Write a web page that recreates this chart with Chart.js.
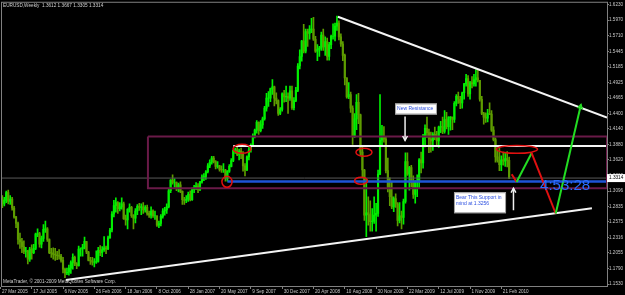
<!DOCTYPE html>
<html>
<head>
<meta charset="utf-8">
<script src="https://cdn.jsdelivr.net/npm/chart.js@4.4.1/dist/chart.umd.min.js"></script>
<style>
  html, body { margin: 0; padding: 0; background: #000; }
</style>
</head>
<body>
<canvas id="chart" width="625" height="295"></canvas>
<script>
// EURUSD weekly bars, first bar = week of 27 Mar 2005, last = week of 21 Mar 2010
const firstOpen = 1.2950;
const weekHigh = [
  // 2005
  1.3005,1.3020,1.2990,1.3095,1.3110,1.3020,1.2990,1.2840,1.2670,1.2575,
  1.2390,1.2300,1.2260,1.2150,1.2100,1.2150,1.2190,1.2200,1.2390,1.2460,
  1.2400,1.2340,1.2530,1.2590,1.2480,1.2290,1.2130,1.2140,1.2130,1.2080,
  1.2110,1.2030,1.1980,1.1800,1.1800,1.1850,1.1920,1.2040,1.2000,1.1890,
  // 2006
  1.2170,1.2140,1.2200,1.2320,1.2230,1.2080,1.1980,1.1980,1.1960,1.2090,
  1.2150,1.2180,1.2160,1.2330,1.2170,1.2340,1.2470,1.2750,1.2940,1.2980,
  1.2920,1.2900,1.2980,1.2910,1.2690,1.2800,1.2880,1.2840,1.2700,1.2800,
  1.2870,1.2890,1.2880,1.2900,1.2850,1.2860,1.2760,1.2830,1.2780,1.2760,
  1.2680,1.2590,1.2700,1.2800,1.2820,1.2880,1.3140,1.3290,1.3370,1.3300,
  1.3250,1.3230,1.3250,
  // 2007
  1.3100,1.2990,1.3020,1.3080,1.3100,1.3150,1.3190,1.3240,1.3220,1.3260,
  1.3370,1.3390,1.3440,1.3560,1.3620,1.3680,1.3680,1.3610,1.3590,1.3530,
  1.3520,1.3560,1.3460,1.3440,1.3540,1.3640,1.3790,1.3820,1.3852,1.3800,
  1.3820,1.3760,1.3560,1.3690,1.3830,1.3890,1.4060,1.4140,1.4280,1.4260,
  1.4280,1.4340,1.4520,1.4740,1.4770,1.4830,1.4970,1.4860,1.4750,1.4630,
  1.4500,1.4750,
  // 2008
  1.4790,1.4860,1.4750,1.4860,1.4860,1.4670,1.4840,1.5240,1.5470,1.5630,
  1.5900,1.5820,1.5820,1.5880,1.6000,1.6020,1.5700,1.5560,1.5530,1.5770,
  1.5820,1.5690,1.5670,1.5600,1.5720,1.5910,1.5920,1.6040,1.5960,1.5740,
  1.5610,1.5400,1.5000,1.4920,1.4760,1.4530,1.4400,1.4720,1.4740,1.4390,
  1.3860,1.3460,1.3300,1.3000,1.2930,1.2800,1.3000,1.2890,1.3450,1.4720,
  1.4200,1.4180,
  // 2009
  1.4000,1.3650,1.3320,1.3250,1.3000,1.3050,1.2900,1.2900,1.2760,1.2960,
  1.3740,1.3740,1.3510,1.3530,1.3350,1.3270,1.3370,1.3640,1.3750,1.4050,
  1.4210,1.4340,1.4140,1.4090,1.4080,1.4170,1.4100,1.4190,1.4270,1.4340,
  1.4450,1.4420,1.4350,1.4350,1.4340,1.4600,1.4720,1.4760,1.4690,1.4760,
  1.4910,1.5060,1.5040,1.4940,1.5020,1.5060,1.5140,1.5140,1.4960,1.4690,
  1.4420,1.4410,
  // 2010
  1.4470,1.4580,1.4450,1.4180,1.3990,1.3790,1.3820,1.3690,1.3750,1.3740,
  1.3760,1.3667
];
const weekLow = [
  // 2005
  1.2860,1.2815,1.2845,1.2900,1.2880,1.2870,1.2775,1.2640,1.2480,1.2200,
  1.2130,1.2060,1.2040,1.1985,1.1870,1.1910,1.1950,1.2040,1.2110,1.2330,
  1.2150,1.2140,1.2250,1.2400,1.2250,1.2040,1.1980,1.1950,1.1930,1.1940,
  1.1950,1.1900,1.1720,1.1640,1.1690,1.1680,1.1710,1.1780,1.1840,1.1790,
  // 2006
  1.1830,1.2000,1.2000,1.2120,1.2040,1.1920,1.1860,1.1850,1.1820,1.1880,
  1.1900,1.2010,1.1990,1.2080,1.2040,1.2110,1.2300,1.2410,1.2660,1.2740,
  1.2720,1.2760,1.2790,1.2620,1.2520,1.2460,1.2740,1.2650,1.2460,1.2560,
  1.2700,1.2770,1.2700,1.2720,1.2740,1.2690,1.2650,1.2640,1.2650,1.2620,
  1.2500,1.2480,1.2510,1.2640,1.2690,1.2720,1.2810,1.3070,1.3210,1.3160,
  1.3100,1.3080,1.3070,
  // 2007
  1.2870,1.2870,1.2900,1.2920,1.2930,1.2940,1.3070,1.3120,1.3070,1.3100,
  1.3230,1.3270,1.3290,1.3400,1.3490,1.3550,1.3570,1.3470,1.3480,1.3430,
  1.3410,1.3410,1.3260,1.3260,1.3410,1.3500,1.3590,1.3730,1.3690,1.3620,
  1.3640,1.3430,1.3350,1.3440,1.3620,1.3750,1.3850,1.3990,1.4070,1.4050,
  1.4090,1.4150,1.4290,1.4440,1.4520,1.4600,1.4720,1.4530,1.4560,1.4370,
  1.4380,1.4440,
  // 2008
  1.4590,1.4600,1.4400,1.4620,1.4470,1.4460,1.4600,1.4770,1.5150,1.5280,
  1.5420,1.5420,1.5530,1.5650,1.5760,1.5630,1.5430,1.5290,1.5360,1.5460,
  1.5460,1.5380,1.5300,1.5300,1.5490,1.5650,1.5620,1.5800,1.5640,1.5530,
  1.5290,1.4880,1.4660,1.4650,1.4420,1.3880,1.4000,1.4130,1.4230,1.3700,
  1.3330,1.2600,1.2330,1.2520,1.2420,1.2420,1.2550,1.2420,1.2670,1.3370,
  1.3860,1.3920,
  // 2009
  1.3400,1.3080,1.2850,1.2800,1.2750,1.2820,1.2510,1.2560,1.2460,1.2540,
  1.2890,1.3360,1.3110,1.3170,1.2970,1.2890,1.3000,1.3150,1.3400,1.3480,
  1.3840,1.4000,1.3740,1.3750,1.3780,1.3960,1.3850,1.3830,1.4080,1.4060,
  1.4070,1.4140,1.4050,1.4120,1.4130,1.4250,1.4530,1.4570,1.4480,1.4490,
  1.4640,1.4860,1.4690,1.4640,1.4830,1.4860,1.4860,1.4930,1.4610,1.4380,
  1.4220,1.4250,
  // 2010
  1.4260,1.4380,1.4100,1.3940,1.3580,1.3580,1.3440,1.3440,1.3530,1.3510,
  1.3500,1.3305
];
const weekClose = [
  // 2005
  1.2960,1.2880,1.2940,1.3070,1.2920,1.2960,1.2810,1.2660,1.2550,1.2280,
  1.2240,1.2160,1.2080,1.2090,1.1950,1.2120,1.2060,1.2130,1.2370,1.2380,
  1.2200,1.2300,1.2450,1.2460,1.2280,1.2060,1.2050,1.2030,1.2020,1.2010,
  1.2000,1.1930,1.1780,1.1720,1.1730,1.1800,1.1890,1.1980,1.1870,1.1840,
  // 2006
  1.2120,1.2120,1.2150,1.2250,1.2070,1.1930,1.1920,1.1900,1.1900,1.1910,
  1.2100,1.2060,1.2110,1.2140,1.2120,1.2310,1.2440,1.2710,1.2850,1.2900,
  1.2800,1.2830,1.2880,1.2630,1.2610,1.2790,1.2820,1.2680,1.2640,1.2760,
  1.2840,1.2820,1.2830,1.2780,1.2820,1.2720,1.2690,1.2760,1.2680,1.2680,
  1.2520,1.2550,1.2670,1.2760,1.2780,1.2830,1.3100,1.3280,1.3240,1.3240,
  1.3130,1.3200,1.3090,
  // 2007
  1.2950,1.2940,1.2960,1.3040,1.2950,1.3120,1.3160,1.3180,1.3120,1.3250,
  1.3330,1.3340,1.3420,1.3520,1.3580,1.3650,1.3590,1.3510,1.3520,1.3460,
  1.3450,1.3450,1.3310,1.3430,1.3510,1.3610,1.3780,1.3790,1.3710,1.3770,
  1.3720,1.3520,1.3450,1.3670,1.3790,1.3860,1.4010,1.4120,1.4250,1.4110,
  1.4210,1.4310,1.4490,1.4660,1.4660,1.4820,1.4850,1.4660,1.4620,1.4400,
  1.4470,1.4730,
  // 2008
  1.4680,1.4690,1.4660,1.4780,1.4500,1.4620,1.4790,1.5200,1.5360,1.5620,
  1.5450,1.5780,1.5750,1.5820,1.5820,1.5650,1.5450,1.5480,1.5500,1.5720,
  1.5520,1.5610,1.5360,1.5560,1.5700,1.5700,1.5870,1.5920,1.5690,1.5570,
  1.5380,1.5000,1.4680,1.4720,1.4490,1.4010,1.4310,1.4590,1.4380,1.3750,
  1.3450,1.2690,1.2730,1.2700,1.2580,1.2590,1.2690,1.2720,1.3380,1.3950,
  1.4000,1.3970,
  // 2009
  1.3440,1.3160,1.3000,1.2830,1.2970,1.2880,1.2600,1.2680,1.2650,1.2920,
  1.3590,1.3380,1.3490,1.3240,1.3040,1.3250,1.3250,1.3620,1.3570,1.3990,
  1.4150,1.4080,1.3970,1.3940,1.4050,1.4000,1.3940,1.4170,1.4180,1.4100,
  1.4300,1.4180,1.4330,1.4340,1.4300,1.4570,1.4690,1.4640,1.4580,1.4750,
  1.4900,1.4990,1.4730,1.4920,1.4900,1.4970,1.5000,1.4960,1.4640,1.4400,
  1.4340,1.4320,
  // 2010
  1.4400,1.4390,1.4120,1.3960,1.3670,1.3610,1.3540,1.3620,1.3600,1.3640,
  1.3612,1.3314
];

// axis labels (one every 16 weeks) and price scale
const dateLabels = ['27 Mar 2005','17 Jul 2005','6 Nov 2005','26 Feb 2006','18 Jun 2006','8 Oct 2006',
  '28 Jan 2007','20 May 2007','9 Sep 2007','30 Dec 2007','20 Apr 2008','10 Aug 2008','30 Nov 2008',
  '22 Mar 2009','12 Jul 2009','1 Nov 2009','21 Feb 2010'];
const priceTicks = [1.6230,1.5970,1.5710,1.5445,1.5185,1.4925,1.4665,1.4400,1.4140,1.3880,1.3620,
  1.3360,1.3096,1.2835,1.2575,1.2316,1.2055,1.1790,1.1530];
const lastPrice = 1.3314;
const headerText = 'EURUSD,Weekly  1.3612 1.3667 1.3305 1.3314';

// drawn objects, in [week index, price]
const descTrend = [[172.5, 1.6029], [310, 1.4334]];
const ascTrend = [[33.5, 1.1599], [302.3, 1.2807]];
const resistLine = [[119, 1.3852], [310, 1.3852]];
const supportLine = [[116, 1.3256], [310, 1.3256]];
const boxCorners = [[75.4, 1.4015], [310, 1.4015], [310, 1.3143], [75.4, 1.3143], [75.4, 1.4015]];
const zigzag = [[261.3, 1.3377], [263.8, 1.3249], [271.5, 1.3735], [283.8, 1.2718], [296.7, 1.4552]];
// ellipse: centre week, centre price, half width (weeks), half height (price)
const ellipseMarks = [[123.5, 1.3806, 4.6, 0.0076], [115.8, 1.3252, 2.6, 0.0092], [185.8, 1.3747, 4.1, 0.0067],
  [184.3, 1.3269, 3.3, 0.0059], [264.0, 1.3797, 10.5, 0.0067]];
const whiteArrows = [[[206.8, 1.4351], [206.8, 1.3948]], [[262.2, 1.2774], [262.2, 1.3143]]];
const notes = [
  { lines: ['New Resistance'], from: [201.7, 1.4569], to: [223.1, 1.4384] },
  { lines: ['Bear This Support in', 'mind at 1.3256'], from: [231.8, 1.3076], to: [258.4, 1.2723] }
];
const timerText = '4:53:28';
const timerPos = [275.8, 1.3105];

const UP = '#00f000', DOWN = '#5e9c00';
const opens = weekClose.map((c, i) => i ? weekClose[i - 1] : firstOpen);
const barColors = weekClose.map((c, i) => c >= opens[i] ? UP : DOWN);
const pts = arr => arr.map(([x, y]) => ({ x, y }));
const FONT = '"Liberation Sans", Arial, sans-serif';

function lineSet(data, color, width, extra) {
  return Object.assign({
    type: 'line', data: pts(data), borderColor: color, borderWidth: width,
    pointRadius: 0, tension: 0, fill: false, order: 1
  }, extra || {});
}

const overlay = {
  id: 'overlay',
  beforeDraw(chart) {
    const { ctx, width, height } = chart;
    ctx.save();
    ctx.fillStyle = '#000';
    ctx.fillRect(0, 0, width, height);
    ctx.restore();
  },
  afterDatasetsDraw(chart) {
    const { ctx, chartArea: a, scales: { x, y } } = chart;
    const px = v => x.getPixelForValue(v), py = v => y.getPixelForValue(v);
    ctx.save();
    ctx.beginPath();
    ctx.rect(a.left, a.top, a.right - a.left, a.bottom - a.top);
    ctx.clip();

    // red ellipses
    ctx.strokeStyle = '#e01010';
    ctx.lineWidth = 1.5;
    ellipseMarks.forEach(([i, p, ri, rp]) => {
      const cx = px(i), cy = py(p);
      ctx.beginPath();
      ctx.ellipse(cx, cy, Math.abs(px(i + ri) - cx), Math.abs(py(p + rp) - cy), 0, 0, Math.PI * 2);
      ctx.stroke();
    });

    // arrow heads
    function head(x0, y0, x1, y1, color) {
      const ang = Math.atan2(y1 - y0, x1 - x0);
      ctx.strokeStyle = color;
      ctx.lineWidth = 1.5;
      ctx.beginPath();
      ctx.moveTo(x1 - 5 * Math.cos(ang - 0.5), y1 - 5 * Math.sin(ang - 0.5));
      ctx.lineTo(x1, y1);
      ctx.lineTo(x1 - 5 * Math.cos(ang + 0.5), y1 - 5 * Math.sin(ang + 0.5));
      ctx.stroke();
    }
    whiteArrows.forEach(([f, t]) => {
      const x0 = px(f[0]), y0 = py(f[1]), x1 = px(t[0]), y1 = py(t[1]);
      ctx.strokeStyle = '#f0f0f0';
      ctx.lineWidth = 1.5;
      ctx.beginPath();
      ctx.moveTo(x0, y0);
      ctx.lineTo(x1, y1);
      ctx.stroke();
      head(x0, y0, x1, y1, '#f0f0f0');
    });
    const z = zigzag.length;
    head(px(zigzag[z - 2][0]), py(zigzag[z - 2][1]), px(zigzag[z - 1][0]), py(zigzag[z - 1][1]), '#22dd22');

    // note boxes
    notes.forEach(n => {
      const l = px(n.from[0]), t = py(n.from[1]), r = px(n.to[0]), b = py(n.to[1]);
      ctx.fillStyle = '#ffffff';
      ctx.fillRect(l, t, r - l, b - t);
      ctx.strokeStyle = '#a0a0a0';
      ctx.lineWidth = 1;
      ctx.strokeRect(l + 0.5, t + 0.5, r - l - 1, b - t - 1);
      ctx.fillStyle = '#2a4ee0';
      ctx.font = '5px ' + FONT;
      ctx.textBaseline = 'top';
      n.lines.forEach((s, k) => ctx.fillText(s, l + 2, t + 3 + k * 6));
    });

    // countdown text
    ctx.fillStyle = '#2a6cff';
    ctx.font = '15px ' + FONT;
    ctx.textBaseline = 'alphabetic';
    ctx.fillText(timerText, px(timerPos[0]), py(timerPos[1]));
    ctx.restore();
  },
  afterDraw(chart) {
    const { ctx, chartArea: a, scales: { y } } = chart;
    ctx.save();
    ctx.strokeStyle = '#808080';
    ctx.lineWidth = 1;
    ctx.strokeRect(a.left - 0.5, a.top - 0.5, a.right - a.left + 1, a.bottom - a.top + 1);
    ctx.font = '4.7px ' + FONT;
    ctx.fillStyle = '#d0d0d0';
    ctx.textBaseline = 'middle';
    ctx.fillText(headerText, 3, 6);
    ctx.fillText('MetaTrader, \u00a9 2001-2009 MetaQuotes Software Corp.', 3, 282);
    // last price marker on the scale
    const yy = y.getPixelForValue(lastPrice);
    ctx.fillStyle = '#ffffff';
    ctx.fillRect(a.right, yy - 4, 625 - a.right, 8);
    ctx.fillStyle = '#000';
    ctx.fillText(lastPrice.toFixed(4), a.right + 2, yy);
    ctx.restore();
  }
};

new Chart(document.getElementById('chart'), {
  type: 'bar',
  data: {
    datasets: [
      {
        data: weekHigh.map((h, i) => ({ x: i, y: [weekLow[i], h] })),
        backgroundColor: barColors, barThickness: 1, grouped: false, order: 11
      },
      {
        data: weekClose.map((c, i) => ({ x: i, y: [opens[i], c] })),
        backgroundColor: barColors, barThickness: 1.5, grouped: false, order: 10
      },
      lineSet(boxCorners, '#6a1a48', 2),
      lineSet([[0.82, lastPrice], [310, lastPrice]], '#5a5a5a', 1),
      lineSet(supportLine, '#1e54d8', 2.5),
      lineSet(resistLine, '#f4f4f4', 2),
      lineSet(descTrend, '#f4f4f4', 2),
      lineSet(ascTrend, '#f4f4f4', 2),
      lineSet(zigzag, '#e01010', 2, {
        segment: { borderColor: c => c.p0DataIndex % 2 ? '#22dd22' : '#e01010' }, order: 0
      })
    ]
  },
  options: {
    responsive: false,
    devicePixelRatio: 1,
    animation: false,
    events: [],
    layout: { padding: { left: 2, top: 2, right: 0, bottom: 0 } },
    plugins: { legend: { display: false }, tooltip: { enabled: false }, title: { display: false } },
    scales: {
      x: {
        type: 'linear', min: 0.82, max: 310, offset: false,
        grid: { offset: false, drawOnChartArea: false, drawTicks: true, tickLength: 3, color: '#808080' },
        border: { display: true, color: '#808080' },
        afterBuildTicks: s => { s.ticks = dateLabels.map((_, k) => ({ value: k * 16 })); },
        afterFit: s => { s.height = 9; },
        ticks: {
          autoSkip: false, maxRotation: 0, align: 'start', padding: 0, labelOffset: 1.5,
          color: '#c8c8c8', font: { family: FONT, size: 4.6 },
          callback: v => dateLabels[Math.round(v / 16)]
        }
      },
      y: {
        position: 'right', min: 1.1498, max: 1.6264, beginAtZero: false,
        grid: { drawOnChartArea: false, drawTicks: true, tickLength: 2, color: '#808080' },
        border: { display: true, color: '#808080' },
        afterBuildTicks: s => { s.ticks = priceTicks.map(v => ({ value: v })); },
        afterFit: s => { s.width = 18; },
        ticks: {
          padding: 0, color: '#c8c8c8', font: { family: FONT, size: 4.6 },
          callback: v => v.toFixed(4)
        }
      }
    }
  },
  plugins: [overlay]
});
</script>
</body>
</html>
